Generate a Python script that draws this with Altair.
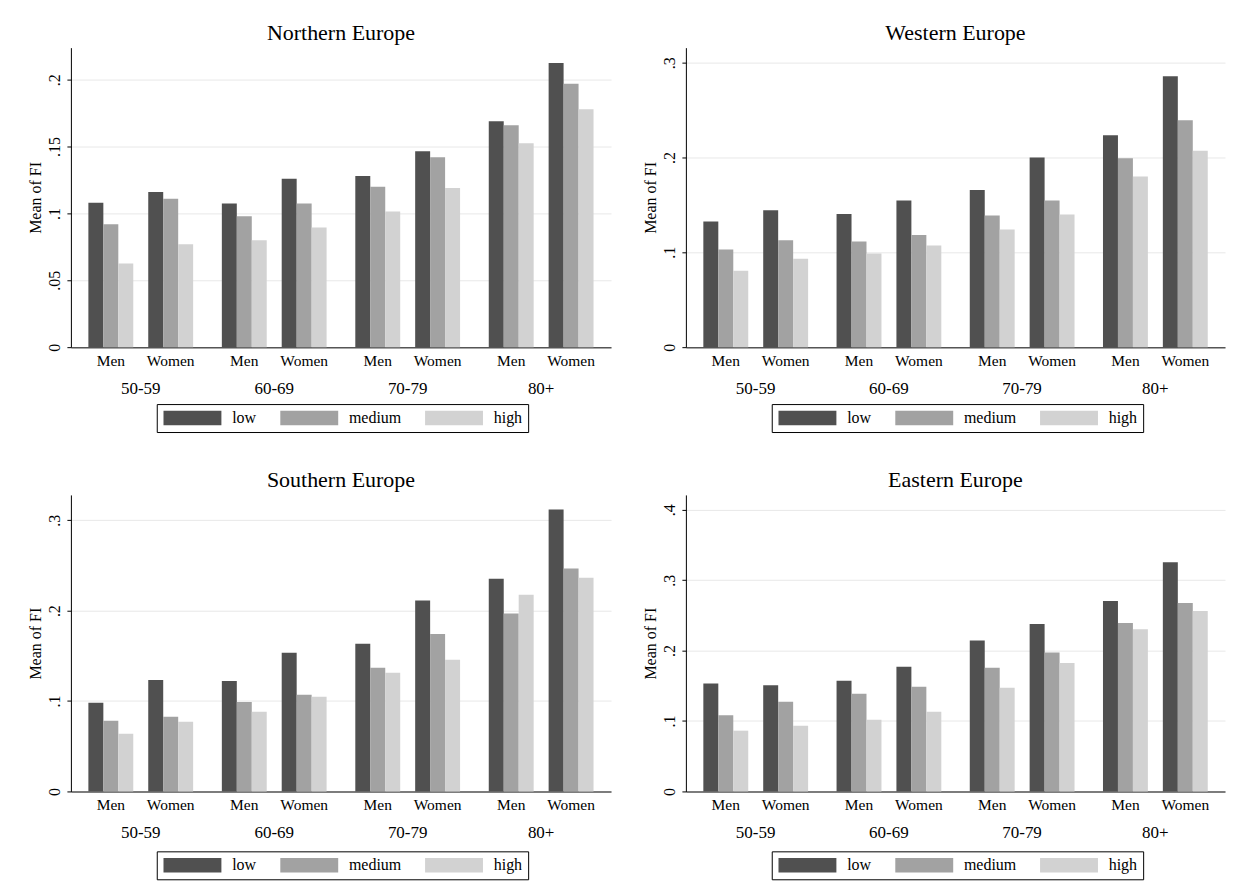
import altair as alt
import pandas as pd

# ---------------- data ----------------
ages = ["50-59", "60-69", "70-79", "80+"]
sexes = ["Men", "Women"]
edus = ["low", "medium", "high"]
slots = ["Men-low", "Men-medium", "Men-high", "gap", "Women-low", "Women-medium", "Women-high"]

# order: 50-59 Men, 50-59 Women, 60-69 Men, 60-69 Women, 70-79 Men, 70-79 Women, 80+ Men, 80+ Women
north_low = [0.108, 0.116, 0.1075, 0.126, 0.128, 0.1465, 0.169, 0.2125]
north_med = [0.092, 0.111, 0.098, 0.1075, 0.120, 0.142, 0.166, 0.197]
north_high = [0.0625, 0.077, 0.080, 0.0895, 0.1015, 0.119, 0.1525, 0.178]

west_low = [0.1325, 0.1445, 0.1406, 0.1547, 0.1657, 0.2002, 0.2235, 0.2859]
west_med = [0.103, 0.1128, 0.1114, 0.1184, 0.1389, 0.1547, 0.1992, 0.2393]
west_high = [0.0807, 0.0934, 0.0987, 0.1072, 0.1241, 0.1399, 0.1801, 0.2073]

south_low = [0.0982, 0.1232, 0.1221, 0.1535, 0.1635, 0.2111, 0.2354, 0.3118]
south_med = [0.0782, 0.0827, 0.0989, 0.107, 0.1369, 0.1742, 0.1967, 0.2465]
south_high = [0.0638, 0.0771, 0.0882, 0.1048, 0.1314, 0.1458, 0.2177, 0.2365]

east_low = [0.1533, 0.1509, 0.1571, 0.1769, 0.2142, 0.2377, 0.2703, 0.3255]
east_med = [0.108, 0.1274, 0.1387, 0.1486, 0.1755, 0.1972, 0.2392, 0.2675]
east_high = [0.0863, 0.0934, 0.1019, 0.1132, 0.1472, 0.1825, 0.2302, 0.2561]

north_ticks = [0, 0.05, 0.1, 0.15, 0.2]
west_ticks = [0, 0.1, 0.2, 0.3]
south_ticks = [0, 0.1, 0.2, 0.3]
east_ticks = [0, 0.1, 0.2, 0.3, 0.4]

FONT = "Liberation Serif"
COLORS = ["#505050", "#a2a2a2", "#d2d2d2"]


def make_df(low, med, high):
    rows = []
    for i, age in enumerate(ages):
        for j, sex in enumerate(sexes):
            k = i * 2 + j
            for edu, vals in zip(edus, [low, med, high]):
                rows.append({"age": age, "sex": sex, "edu": edu,
                             "slot": f"{sex}-{edu}", "fi": vals[k]})
    return pd.DataFrame(rows)


def panel(title, df, ymax, ticks, w, h):
    base = alt.Chart(df)
    x = alt.X("age:N", sort=ages,
              scale=alt.Scale(domain=ages, paddingInner=0.215, paddingOuter=0.131),
              axis=alt.Axis(title=None, labelAngle=0, ticks=False, tickSize=0,
                            labelPadding=33, labelFont=FONT, labelFontSize=17,
                            labelColor="black", domainColor="#555555",
                            domainWidth=1.5, grid=False))
    xo = alt.XOffset("slot:N",
                     scale=alt.Scale(domain=slots, paddingInner=0, paddingOuter=0))
    yscale = alt.Scale(domain=[0, ymax], nice=False, zero=True)
    yaxis = alt.Axis(title="Mean of FI", values=ticks,
                     labelExpr="datum.value == 0 ? '0' : replace(format(datum.value, '.2~f'), '0.', '.')",
                     labelAngle=270, labelAlign="center", labelBaseline="bottom",
                     labelFont=FONT, labelFontSize=16, labelColor="black",
                     labelPadding=4, tickSize=4, tickColor="black",
                     domainColor="black", gridColor="#e8e8e8", gridWidth=1,
                     titleFont=FONT, titleFontSize=16, titleFontWeight="normal",
                     titleColor="black", titlePadding=3)
    bars = base.mark_bar().encode(
        x=x, xOffset=xo,
        y=alt.Y("fi:Q", scale=yscale, axis=yaxis, title="Mean of FI"),
        color=alt.Color("edu:N",
                        scale=alt.Scale(domain=edus, range=COLORS),
                        legend=alt.Legend(title=None, orient="none", legendX=86,
                                          legendY=357, direction="horizontal",
                                          symbolType="M-4,-1L4,-1L4,1L-4,1Z",
                                          symbolSize=210.25, symbolStrokeWidth=0,
                                          symbolOffset=21.75, symbolOpacity=1,
                                          labelFont=FONT, labelFontSize=16,
                                          labelColor="black", labelOffset=31.75,
                                          columnPadding=23, padding=6,
                                          strokeColor="black",
                                          fillColor="white")),
    )
    labels = base.transform_filter(alt.datum.edu == "medium").mark_text(
        dy=14, font=FONT, fontSize=15.5, baseline="middle", color="black"
    ).encode(x=x, xOffset=xo,
             y=alt.YDatum(0, scale=yscale, axis=yaxis, title="Mean of FI"),
             text="sex:N")
    return alt.layer(bars, labels).properties(
        width=w, height=h,
        title=alt.TitleParams(title, font=FONT, fontSize=22, fontWeight="normal",
                              color="black", anchor="middle", offset=3),
    )


nw = panel("Northern Europe", make_df(north_low, north_med, north_high), 0.224, north_ticks, 541, 300)
we = panel("Western Europe", make_df(west_low, west_med, west_high), 0.316, west_ticks, 540, 300)
so = panel("Southern Europe", make_df(south_low, south_med, south_high), 0.328, south_ticks, 541, 297)
ea = panel("Eastern Europe", make_df(east_low, east_med, east_high), 0.421, east_ticks, 540, 297)

top = alt.hconcat(nw, we, spacing=32).resolve_scale(color="independent").resolve_legend(color="independent")
bottom = alt.hconcat(so, ea, spacing=32).resolve_scale(color="independent").resolve_legend(color="independent")
chart = alt.vconcat(top, bottom, spacing=36).resolve_scale(
    color="independent").resolve_legend(color="independent").properties(
    padding={"left": 20, "top": 13, "right": 5, "bottom": 5},
    background="white",
).configure(font=FONT).configure_view(strokeWidth=0)

chart.save("out.html", embed_options={"renderer": "svg", "actions": False})
